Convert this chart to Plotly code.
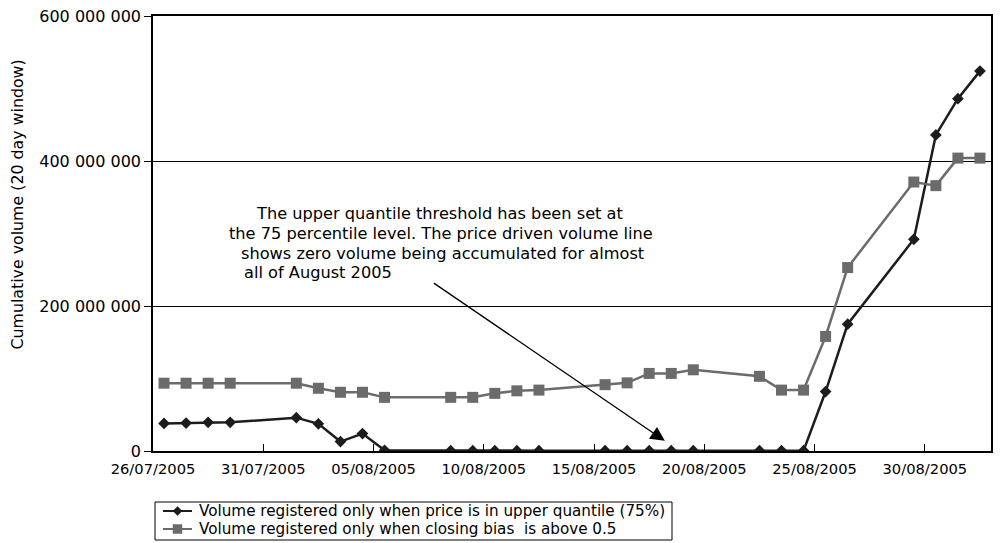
import plotly.graph_objects as go

dates = ["2005-07-26", "2005-07-27", "2005-07-28", "2005-07-29",
         "2005-08-01", "2005-08-02", "2005-08-03", "2005-08-04", "2005-08-05",
         "2005-08-08", "2005-08-09", "2005-08-10", "2005-08-11", "2005-08-12",
         "2005-08-15", "2005-08-16", "2005-08-17", "2005-08-18", "2005-08-19",
         "2005-08-22", "2005-08-23", "2005-08-24", "2005-08-25", "2005-08-26",
         "2005-08-29", "2005-08-30", "2005-08-31", "2005-09-01"]

upper_quantile = [38e6, 38.5e6, 39.5e6, 39.5e6,
                  46e6, 37.5e6, 13e6, 24e6, 1e6,
                  0.5e6, 0.5e6, 0.5e6, 0.5e6, 0.5e6,
                  0.5e6, 0.5e6, 0.5e6, 0.5e6, 0.5e6,
                  0.5e6, 0.5e6, 0.5e6, 82e6, 175e6,
                  292e6, 436e6, 486e6, 524e6]

closing_bias = [93.5e6, 93.5e6, 93.5e6, 93.5e6,
                93.5e6, 86.5e6, 81e6, 81e6, 74e6,
                74e6, 74e6, 79.5e6, 83e6, 84e6,
                91.5e6, 94e6, 107e6, 107e6, 112e6,
                103e6, 84e6, 84e6, 158e6, 253e6,
                371e6, 366e6, 404e6, 404e6]

series_names = ["Volume registered only when price is in upper quantile (75%)",
                "Volume registered only when closing bias  is above 0.5"]

y_tickvals = [0, 200e6, 400e6, 600e6]
y_ticktext = ["0", "200 000 000", "400 000 000", "600 000 000"]

y_title = "Cumulative volume (20 day window)"

note_lines = ["The upper quantile threshold has been set at",
              "the 75 percentile level. The price driven volume line",
              "shows zero volume being accumulated for almost",
              "all of August 2005"]

# points sit mid-day (Excel date axis, between tick marks)
x_mid = [d + " 12:00" for d in dates]

FONT = "DejaVu Sans, Verdana, sans-serif"
C_DARK = "#1c1c1c"
C_GREY = "#6b6b6b"

fig = go.Figure()
fig.add_trace(go.Scatter(
    x=x_mid, y=upper_quantile, mode="lines+markers", name=series_names[0],
    line=dict(color=C_DARK, width=2.5),
    marker=dict(symbol="diamond", size=9, color=C_DARK),
))
fig.add_trace(go.Scatter(
    x=x_mid, y=closing_bias, mode="lines+markers", name=series_names[1],
    line=dict(color=C_GREY, width=2.5),
    marker=dict(symbol="square", size=11, color=C_GREY),
))

# The page body has an 8px margin; the figure is sized so that its plot area
# lands at page pixels x 153..991, y 16..451.
OFF = 8
PAGE_W, PAGE_H = 1001, 543
PL, PR, PT, PB = 153, 991, 16, 451          # plot area in page pixels
W, H = PAGE_W - OFF, PAGE_H - OFF
L, T = PL - OFF, PT - OFF
R, B = W - (PR - OFF), H - (PB - OFF)
pw, ph = PR - PL, PB - PT

def px(x):
    return (x - PL) / pw

def py(y):
    return (PB - y) / ph

annots = []
centers = [(439, 213), (441, 233), (442, 253)]
for (cx, cy), txt in zip(centers, note_lines[:3]):
    annots.append(dict(x=px(cx), y=py(cy), xref="paper", yref="paper",
                       text=txt, showarrow=False, xanchor="center",
                       yanchor="middle", font=dict(size=16.2, color="black", family=FONT)))
annots.append(dict(x=px(242), y=py(273), xref="paper", yref="paper",
                   text=note_lines[3], showarrow=False, xanchor="left",
                   yanchor="middle", font=dict(size=16.2, color="black", family=FONT)))
annots.append(dict(x="2005-08-18 05:00", y=14e6, xref="x", yref="y",
                   ax="2005-08-07 16:00", ay=233e6, axref="x", ayref="y",
                   showarrow=True, arrowhead=2, arrowsize=2.2, arrowwidth=1.3,
                   arrowcolor="black", text=""))
annots.append(dict(x=px(16.5), y=py(205), xref="paper", yref="paper",
                   text=y_title, showarrow=False, textangle=-90,
                   xanchor="center", yanchor="middle",
                   font=dict(size=15.8, color="black", family=FONT)))

# custom legend (Excel-style compact box)
shapes = [dict(type="rect", xref="paper", yref="paper",
               x0=px(155), x1=px(672), y0=py(502), y1=py(540),
               line=dict(color="black", width=1), fillcolor="white", layer="above")]
legend_rows = [(511, C_DARK, "diamond"), (529, C_GREY, "square")]
for (ry, col, sym), name in zip(legend_rows, series_names):
    shapes.append(dict(type="line", xref="paper", yref="paper",
                       x0=px(163), x1=px(192), y0=py(ry), y1=py(ry),
                       line=dict(color=col, width=2), layer="above"))
    cx = 177.5
    if sym == "diamond":
        pts = [(cx, ry - 4.5), (cx + 4.5, ry), (cx, ry + 4.5), (cx - 4.5, ry)]
    else:
        pts = [(cx - 4.5, ry - 4.5), (cx + 4.5, ry - 4.5), (cx + 4.5, ry + 4.5), (cx - 4.5, ry + 4.5)]
    path = "M " + " L ".join(f"{px(a):.5f},{py(b):.5f}" for a, b in pts) + " Z"
    shapes.append(dict(type="path", xref="paper", yref="paper", path=path,
                       fillcolor=col, line=dict(color=col, width=0.5), layer="above"))
    annots.append(dict(x=px(197), y=py(ry), xref="paper", yref="paper",
                       text=name, showarrow=False, xanchor="left", yanchor="middle",
                       font=dict(size=15.2, color="black", family=FONT)))

fig.update_layout(
    width=W, height=H,
    margin=dict(l=L, r=R, t=T, b=B, autoexpand=False),
    paper_bgcolor="white", plot_bgcolor="white",
    font=dict(family=FONT, size=16, color="black"),
    showlegend=False,
    annotations=annots,
    shapes=shapes,
)
fig.update_xaxes(
    type="date", range=["2005-07-26", "2005-09-02"],
    tick0="2005-07-26", dtick=5 * 86400000, tickformat="%d/%m/%Y",
    ticks="inside", ticklen=7, tickcolor="black", tickwidth=1,
    showline=True, linecolor="black", linewidth=1.5, mirror=True,
    showgrid=False, zeroline=False, automargin=False,
    ticklabelstandoff=4, ticklabeloverflow="allow",
    tickfont=dict(size=14.7, family=FONT),
)
fig.update_yaxes(
    range=[0, 600e6], tickvals=y_tickvals, ticktext=y_ticktext,
    ticks="outside", ticklen=7, tickcolor="black",
    showline=True, linecolor="black", linewidth=1.5, mirror=True,
    showgrid=True, gridcolor="black", gridwidth=1.2, zeroline=False,
    automargin=False, ticklabeloverflow="allow",
    tickfont=dict(size=16, family=FONT),
)

fig.write_html("out.html")
